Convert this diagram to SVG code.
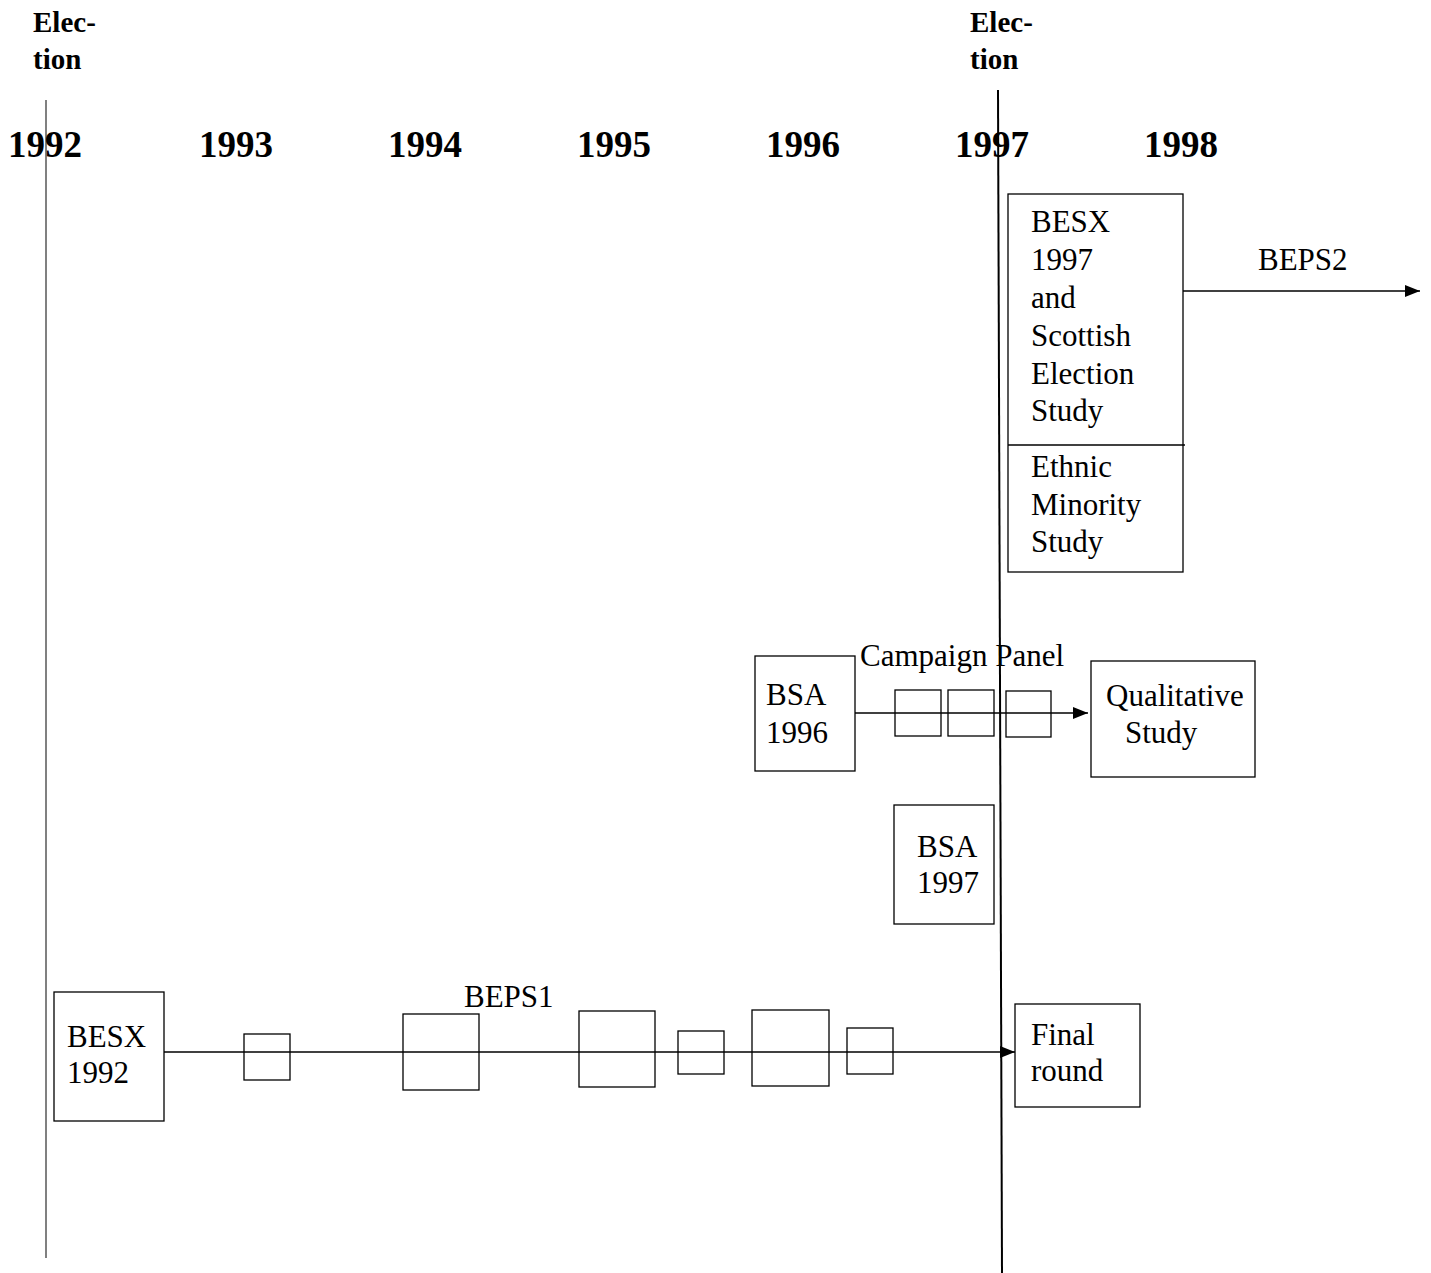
<svg xmlns="http://www.w3.org/2000/svg" width="1431" height="1273" viewBox="0 0 1431 1273">
<style>
.t{font-family:"Liberation Serif","Times New Roman",serif;font-size:31px;fill:#000}
.b{font-family:"Liberation Serif","Times New Roman",serif;font-weight:bold;fill:#000}
.yr{font-size:37px}
.el{font-size:29px}
.box{fill:none;stroke:#000;stroke-width:1.3}
.con{fill:none;stroke:#000;stroke-width:1.3}
</style>
<defs>
<marker id="ah" markerWidth="15" markerHeight="12" refX="15" refY="6" orient="auto" markerUnits="userSpaceOnUse">
<path d="M0,0 L15,6 L0,12 Z" fill="#000"/>
</marker>
</defs>
<rect width="1431" height="1273" fill="#fff"/>
<g id="timeline">
<line x1="46" y1="100" x2="46" y2="1258" stroke="#808080" stroke-width="2"/>
<line x1="998" y1="90" x2="1002" y2="1273" stroke="#000" stroke-width="2"/>
<text class="b el" x="33" y="32">Elec-</text>
<text class="b el" x="33" y="69">tion</text>
<text class="b el" x="970" y="32">Elec-</text>
<text class="b el" x="970" y="69">tion</text>
<text class="b yr" x="8" y="157">1992</text>
<text class="b yr" x="199" y="157">1993</text>
<text class="b yr" x="388" y="157">1994</text>
<text class="b yr" x="577" y="157">1995</text>
<text class="b yr" x="766" y="157">1996</text>
<text class="b yr" x="955" y="157">1997</text>
<text class="b yr" x="1144" y="157">1998</text>
</g>
<g id="connectors">
<line class="con" x1="1183" y1="291" x2="1420" y2="291" marker-end="url(#ah)"/>
<line class="con" x1="855" y1="713" x2="1088" y2="713" marker-end="url(#ah)"/>
<line class="con" x1="164" y1="1052" x2="1015" y2="1052" marker-end="url(#ah)"/>
</g>
<g id="besx1997">
<rect class="box" x="1008" y="194" width="175" height="378"/>
<line class="con" x1="1008" y1="445" x2="1185" y2="445"/>
<text class="t" x="1031" y="232">BESX</text>
<text class="t" x="1031" y="270">1997</text>
<text class="t" x="1031" y="308">and</text>
<text class="t" x="1031" y="346">Scottish</text>
<text class="t" x="1031" y="384">Election</text>
<text class="t" x="1031" y="421">Study</text>
<text class="t" x="1031" y="477">Ethnic</text>
<text class="t" x="1031" y="515">Minority</text>
<text class="t" x="1031" y="552">Study</text>
</g>
<g id="beps2">
<text class="t" x="1258" y="270">BEPS2</text>
</g>
<g id="campaign-panel">
<text class="t" x="860" y="666">Campaign Panel</text>
<rect class="box" x="895" y="690" width="46" height="46"/>
<rect class="box" x="948" y="690" width="46" height="46"/>
<rect class="box" x="1006" y="691" width="45" height="46"/>
</g>
<g id="bsa1996">
<rect class="box" x="755" y="656" width="100" height="115"/>
<text class="t" x="766" y="705">BSA</text>
<text class="t" x="766" y="743">1996</text>
</g>
<g id="qualitative">
<rect class="box" x="1091" y="661" width="164" height="116"/>
<text class="t" x="1106" y="706">Qualitative</text>
<text class="t" x="1125" y="743">Study</text>
</g>
<g id="bsa1997">
<rect class="box" x="894" y="805" width="100" height="119"/>
<text class="t" x="917" y="857">BSA</text>
<text class="t" x="917" y="893">1997</text>
</g>
<g id="besx1992">
<rect class="box" x="54" y="992" width="110" height="129"/>
<text class="t" x="67" y="1047">BESX</text>
<text class="t" x="67" y="1083">1992</text>
</g>
<g id="beps1">
<text class="t" x="464" y="1007">BEPS1</text>
<rect class="box" x="244" y="1034" width="46" height="46"/>
<rect class="box" x="403" y="1014" width="76" height="76"/>
<rect class="box" x="579" y="1011" width="76" height="76"/>
<rect class="box" x="678" y="1031" width="46" height="43"/>
<rect class="box" x="752" y="1010" width="77" height="76"/>
<rect class="box" x="847" y="1028" width="46" height="46"/>
</g>
<g id="final-round">
<rect class="box" x="1015" y="1004" width="125" height="103"/>
<text class="t" x="1031" y="1045">Final</text>
<text class="t" x="1031" y="1081">round</text>
</g>
</svg>
